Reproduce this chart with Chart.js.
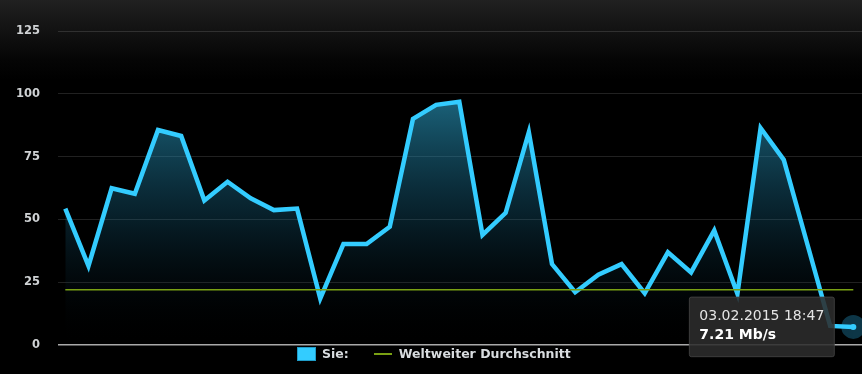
<!DOCTYPE html>
<html>
<head>
<meta charset="utf-8">
<script src="https://cdn.jsdelivr.net/npm/chart.js@4.4.1/dist/chart.umd.min.js"></script>
<style>
  html,body{margin:0;padding:0;background:#000;}
  #wrap{position:relative;width:862px;height:374px;overflow:hidden;
    background:linear-gradient(#212121 0,#161616 22px,#050505 60px,#000 80px);}
  #wrap canvas{position:absolute;left:0;top:0;}
  #legend{position:absolute;left:297px;top:346px;height:15px;display:flex;align-items:center;
    font:bold 12.5px "DejaVu Sans",sans-serif;color:#d8dcdf;white-space:nowrap;}
  #legend .box{width:17px;height:12px;background:#33ccff;border:1px solid #1f9cc8;}
  #legend .ln{width:18px;height:2px;background:#79a013;margin-left:25px;}
</style>
</head>
<body>
<div id="wrap">
  <canvas id="speedChart"></canvas>
  <div id="legend">
    <span class="box"></span><span style="margin-left:6px">Sie:</span>
    <span class="ln"></span><span style="margin-left:7px">Weltweiter Durchschnitt</span>
  </div>
</div>
<script>
// ── DATA ──────────────────────────────────────────────────────
var labels=['1','2','3','4','5','6','7','8','9','10','11','12','13','14','15','16','17',
  '18','19','20','21','22','23','24','25','26','27','28','29','30','31','32','33','34',
  '03.02.2015 18:47'];
var speeds=[54.3,31.5,62.4,60.2,85.6,83.2,57.5,65.0,58.4,53.7,54.3,18.5,40.2,40.2,47.1,90.0,
  95.6,96.8,43.8,52.6,84.7,32.2,21.0,28.0,32.2,20.6,36.9,28.9,45.6,20.4,86.4,73.7,40.7,7.6,7.21];
var worldAvg=22.0;
var yTicks=[0,25,50,75,100,125];
var unit='Mb/s';

// ── CHART ─────────────────────────────────────────────────────
var BLUE='#33ccff', GREEN='#79a013';
var last=speeds.length-1;

Chart.Tooltip.positioners.leftOfPoint=function(items){
  if(!items.length)return false;
  return {x:items[0].element.x,y:items[0].element.y};
};

var halo={
  id:'halo',
  beforeDatasetsDraw:function(chart){
    var act=chart.tooltip?chart.tooltip.getActiveElements():[];
    if(!act.length)return;
    var p=act[0].element, ctx=chart.ctx;
    ctx.save();
    ctx.beginPath();ctx.arc(p.x,p.y,12,0,Math.PI*2);
    ctx.fillStyle='rgba(18,72,95,.75)';ctx.fill();
    ctx.restore();
  }
};

function areaFill(c){
  var ch=c.chart, a=ch.chartArea;
  if(!a)return 'rgba(0,0,0,0)';
  var y=ch.scales.y;
  var g=ch.ctx.createLinearGradient(0,y.getPixelForValue(100),0,y.getPixelForValue(0));
  g.addColorStop(0,'rgba(45,165,205,.62)');
  g.addColorStop(0.5,'rgba(25,110,145,.28)');
  g.addColorStop(0.85,'rgba(10,50,70,.05)');
  g.addColorStop(1,'rgba(0,0,0,0)');
  return g;
}

var chart=new Chart(document.getElementById('speedChart').getContext('2d'),{
  type:'line',
  data:{
    datasets:[{
      label:'Sie:',
      data:speeds.map(function(v,i){return {x:i,y:v};}),
      borderColor:BLUE,
      borderWidth:4.5,
      backgroundColor:areaFill,
      fill:'origin',
      tension:0,
      pointRadius:function(c){return c.dataIndex===last?3:0;},
      pointHoverRadius:3,
      pointBackgroundColor:BLUE,
      pointBorderWidth:0,
      pointHoverBorderWidth:0,
      order:1
    },{
      label:'Weltweiter Durchschnitt',
      data:[{x:0,y:worldAvg},{x:last,y:worldAvg}],
      borderColor:GREEN,
      borderWidth:1.5,
      pointRadius:0,
      pointHoverRadius:0,
      fill:false,
      order:0
    }]
  },
  options:{
    responsive:true,
    maintainAspectRatio:false,
    animation:false,
    layout:{autoPadding:false,padding:{top:31,bottom:29,right:0,left:0}},
    font:{family:'"DejaVu Sans", sans-serif'},
    plugins:{
      legend:{display:false},
      tooltip:{
        enabled:true,
        position:'leftOfPoint',
        xAlign:'right',yAlign:'center',
        caretSize:0,caretPadding:19,
        filter:function(it){return it.datasetIndex===0;},
        backgroundColor:'rgba(44,44,44,.88)',
        borderColor:'rgba(70,70,70,.8)',borderWidth:1,
        cornerRadius:2,
        displayColors:false,
        padding:{top:11,bottom:13,left:10,right:10},
        titleFont:{family:'"DejaVu Sans", sans-serif',size:14,weight:'normal'},
        bodyFont:{family:'"DejaVu Sans", sans-serif',size:14,weight:'bold'},
        titleColor:'#e4e4e4',bodyColor:'#ffffff',
        titleMarginBottom:2,
        callbacks:{
          title:function(items){return labels[items[0].dataIndex];},
          label:function(item){return item.parsed.y+' '+unit;}
        }
      }
    },
    scales:{
      x:{type:'linear',display:false,min:-0.315,max:last+0.375},
      y:{
        min:0,max:125,
        afterFit:function(s){s.width=58;},
        afterBuildTicks:function(s){s.ticks=yTicks.map(function(v){return {value:v};});},
        ticks:{color:'#cfd2d4',padding:18,font:{family:'"DejaVu Sans", sans-serif',size:11.5,weight:'bold'}},
        grid:{
          drawTicks:false,
          color:function(c){return c.tick&&c.tick.value===0?'#a9a9a9':'rgba(255,255,255,.13)';},
          lineWidth:function(c){return c.tick&&c.tick.value===0?1.5:1;}
        },
        border:{display:false}
      }
    }
  },
  plugins:[halo]
});

chart.tooltip.setActiveElements([{datasetIndex:0,index:last}],{x:0,y:0});
chart.update();
</script>
</body>
</html>
